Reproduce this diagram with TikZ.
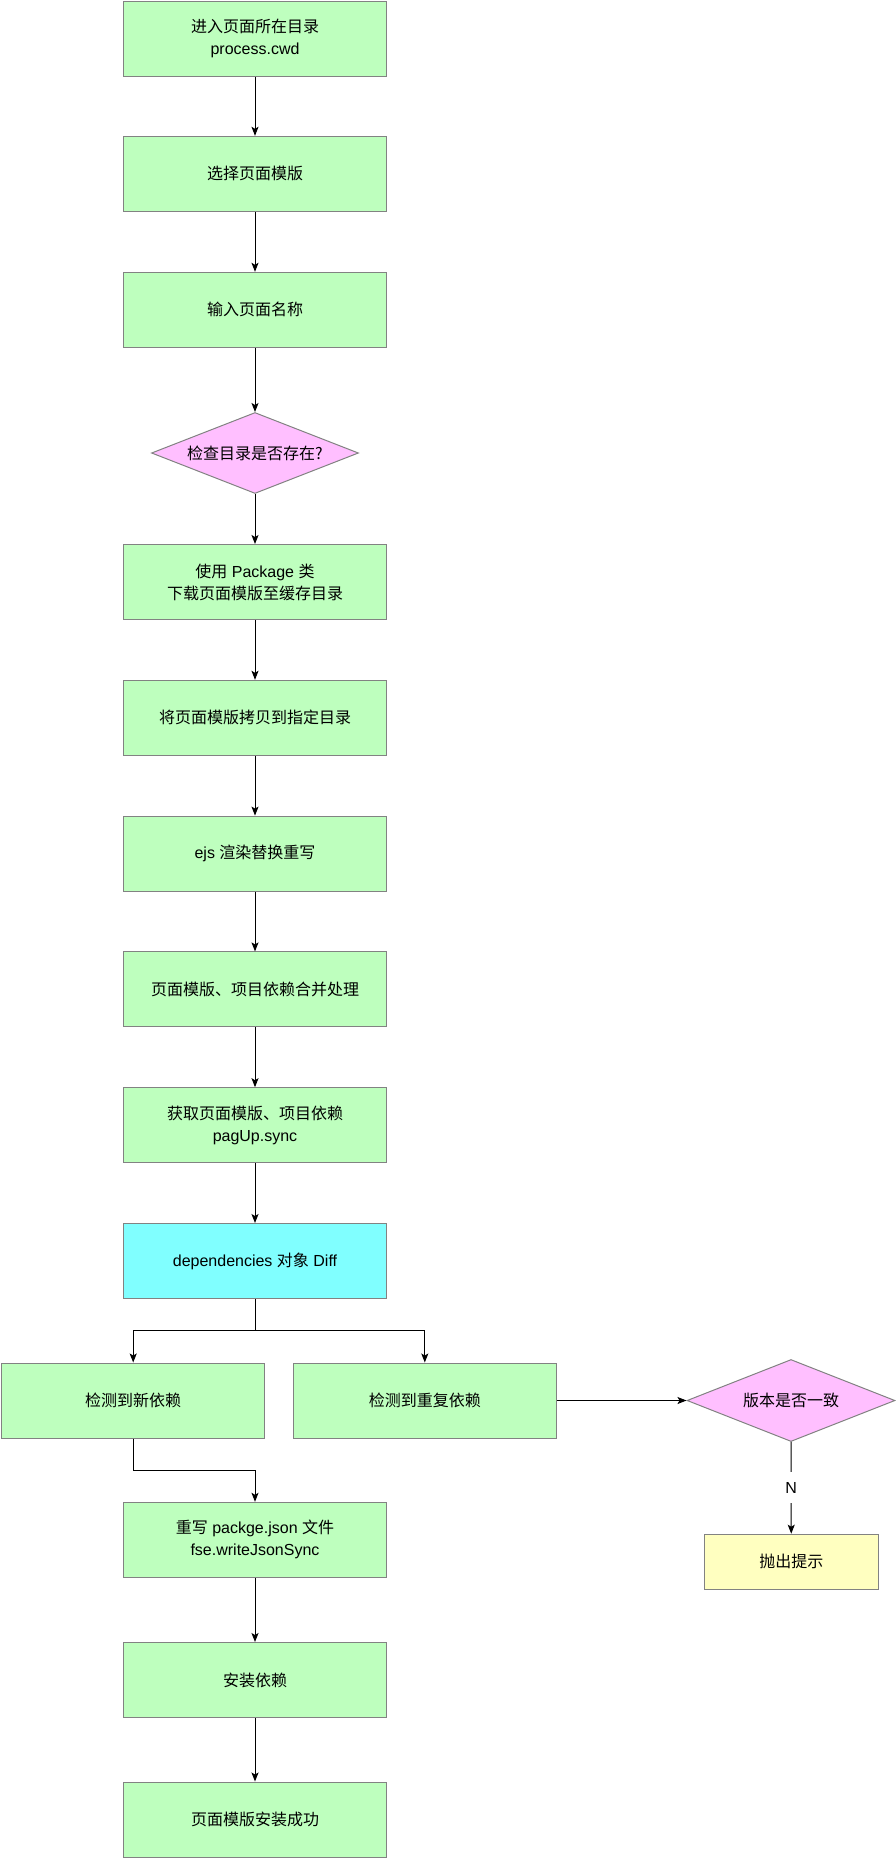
\documentclass[tikz,border=0pt]{standalone}
\usepackage{fontspec}
\setmainfont{Liberation Sans}
\newfontfamily\cjk{Noto Sans CJK SC}
\usepackage{xcolor}
\usetikzlibrary{shapes.geometric, arrows.meta, positioning}
\definecolor{stepcolor}{RGB}{190,255,190}
\definecolor{diffcolor}{RGB}{128,255,255}
\definecolor{checkcolor}{RGB}{255,191,255}
\definecolor{warncolor}{RGB}{255,255,192}
\definecolor{bordercolor}{RGB}{130,130,130}

\begin{document}
\begin{tikzpicture}[
    x=1pt, y=-1pt,
    box/.style={draw=bordercolor, line width=1pt, fill=stepcolor, minimum width=263pt, minimum height=75pt, align=center, inner sep=0pt, font=\fontsize{16}{22}\selectfont},
    check/.style={draw=bordercolor, line width=1pt, fill=checkcolor, diamond, aspect=2.55, inner sep=0pt, font=\fontsize{16}{22}\selectfont},
    arrow/.style={-{Stealth[length=9pt, width=7pt, inset=2pt]}, line width=1pt}
]
    \useasboundingbox (0,0) rectangle (896,1858);

    % Main flow
    \node[box] (cwd) at (255,38.8) {{\cjk 进入页面所在目录}\\process.cwd};
    \node[box] (tpl) at (255,173.8) {\cjk 选择页面模版};
    \node[box] (name) at (255,309.8) {\cjk 输入页面名称};
    \node[check, minimum width=207pt, minimum height=81pt] (exist) at (255,453) {\cjk 检查目录是否存在?};
    \node[box] (pkg) at (255,582) {{\cjk 使用} Package {\cjk 类}\\{\cjk 下载页面模版至缓存目录}};
    \node[box] (copy) at (255,717.8) {\cjk 将页面模版拷贝到指定目录};
    \node[box] (ejs) at (255,853.6) {ejs {\cjk 渲染替换重写}};
    \node[box] (merge) at (255,989.4) {\cjk 页面模版、项目依赖合并处理};
    \node[box] (sync) at (255,1125.2) {{\cjk 获取页面模版、项目依赖}\\pagUp.sync};
    \node[box, fill=diffcolor] (diff) at (255,1261) {dependencies {\cjk 对象} Diff};

    % Diff results
    \node[box] (newdep) at (133.2,1400.5) {\cjk 检测到新依赖};
    \node[box] (dupdep) at (424.8,1400.5) {\cjk 检测到重复依赖};
    \node[check, minimum width=208pt, minimum height=82pt] (version) at (791,1400.5) {\cjk 版本是否一致};
    \node[box, fill=warncolor, minimum width=174pt, minimum height=55pt] (warn) at (791.3,1561.7) {\cjk 抛出提示};

    \node[box] (rewrite) at (255,1539.8) {{\cjk 重写} packge.json {\cjk 文件}\\fse.writeJsonSync};
    \node[box] (install) at (255,1680) {\cjk 安装依赖};
    \node[box] (done) at (255,1819.5) {\cjk 页面模版安装成功};

    % Arrows
    \draw[arrow] (cwd) -- (tpl);
    \draw[arrow] (tpl) -- (name);
    \draw[arrow] (name) -- (exist);
    \draw[arrow] (exist) -- (pkg);
    \draw[arrow] (pkg) -- (copy);
    \draw[arrow] (copy) -- (ejs);
    \draw[arrow] (ejs) -- (merge);
    \draw[arrow] (merge) -- (sync);
    \draw[arrow] (sync) -- (diff);

    \coordinate (split) at (255,1330.3);
    \draw[line width=1pt] (diff) -- (split);
    \draw[arrow] (split) -| (newdep);
    \draw[arrow] (split) -| (dupdep);
    \draw[arrow] (dupdep) -- (version);
    \draw[arrow] (version) -- (warn) node[midway, fill=white, inner xsep=2pt, inner ysep=10pt, font=\fontsize{16}{22}\selectfont] {N};

    \draw[arrow] (newdep.south) -- ++(0,32) -| (rewrite.north);
    \draw[arrow] (rewrite) -- (install);
    \draw[arrow] (install) -- (done);
\end{tikzpicture}
\end{document}
